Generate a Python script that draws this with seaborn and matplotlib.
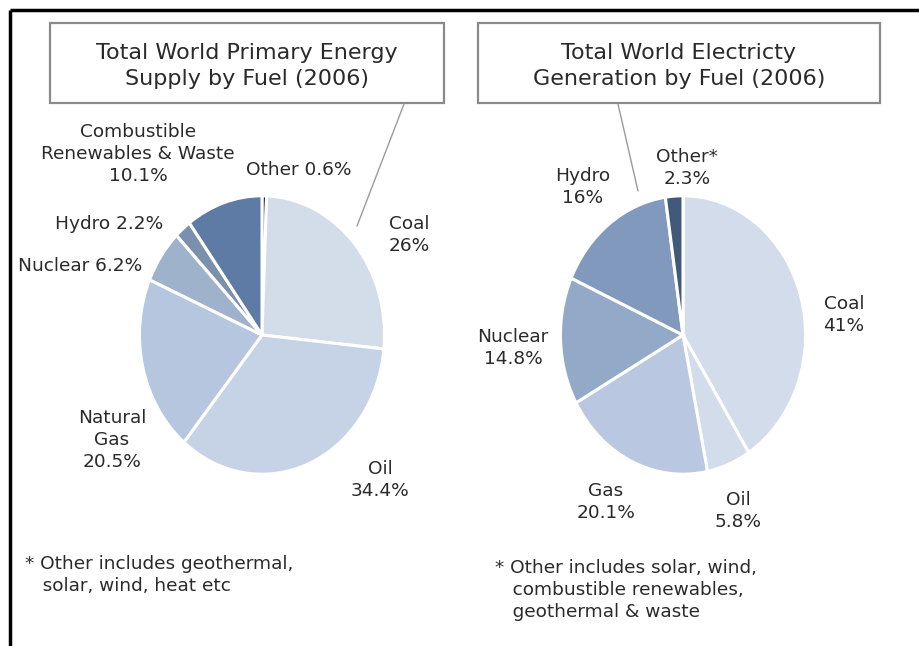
import matplotlib
matplotlib.use("Agg")
import matplotlib.pyplot as plt
import seaborn as sns
from matplotlib.patches import Rectangle

sns.set_theme(style="white")
plt.rcParams['font.family'] = ['DejaVu Sans']

# ---- data ----
supply_labels = ["Other", "Coal", "Oil", "Natural Gas", "Nuclear", "Hydro", "Combustible Renewables & Waste"]
supply_values = [0.6, 26.0, 34.4, 20.5, 6.2, 2.2, 10.1]
supply_colors = ["#1c2a3c", "#d3ddea", "#c6d3e7", "#b6c6df", "#9fb2cc", "#7b90ad", "#5d7ba4"]

elec_labels = ["Coal", "Oil", "Gas", "Nuclear", "Hydro", "Other*"]
elec_values = [41.0, 5.8, 20.1, 14.8, 16.0, 2.3]
elec_colors = ["#d2dcea", "#d3dcea", "#b9c8e0", "#93a9c8", "#8099bd", "#41597a"]

title_left = "Total World Primary Energy\nSupply by Fuel (2006)"
title_right = "Total World Electricty\nGeneration by Fuel (2006)"

supply_texts = ["Other 0.6%", "Coal\n26%", "Oil\n34.4%", "Natural\nGas\n20.5%",
                "Nuclear 6.2%", "Hydro 2.2%", "Combustible\nRenewables & Waste\n10.1%"]
elec_texts = ["Coal\n41%", "Oil\n5.8%", "Gas\n20.1%", "Nuclear\n14.8%", "Hydro\n16%", "Other*\n2.3%"]

note_left = "* Other includes geothermal,\n   solar, wind, heat etc"
note_right = "* Other includes solar, wind,\n   combustible renewables,\n   geothermal & waste"

W, H = 920, 646
fig = plt.figure(figsize=(W / 100, H / 100), dpi=100)
fig.patch.set_facecolor("white")

# overlay axes in pixel coordinates
ov = fig.add_axes([0, 0, 1, 1])
ov.set_xlim(0, W)
ov.set_ylim(H, 0)
ov.axis("off")
ov.set_zorder(0)

def pie_axes(cx, cy, rx, ry):
    return fig.add_axes([(cx - rx) / W, (H - cy - ry) / H, 2 * rx / W, 2 * ry / H])

txt_color = "#2a2a2a"

for (vals, cols, cx) in [(supply_values, supply_colors, 262), (elec_values, elec_colors, 683)]:
    ax = pie_axes(cx, 335, 125, 142)
    ax.pie(vals, colors=cols, startangle=90, counterclock=False,
           wedgeprops=dict(edgecolor="white", linewidth=2.2))
    ax.set_xlim(-1.02, 1.02)
    ax.set_ylim(-1.02, 1.02)
    ax.set_aspect("auto")
    ax.axis("off")

# frame lines
ov.plot([10, W], [10, 10], color="black", lw=2.5, solid_capstyle="butt")
ov.plot([10, 10], [10, H], color="black", lw=2.5, solid_capstyle="butt")

# title boxes
for (x0, x1, t) in [(50, 444, title_left), (478, 880, title_right)]:
    ov.add_patch(Rectangle((x0, 23), x1 - x0, 80, facecolor="white",
                           edgecolor="#8a8a8a", lw=1.6))
    ov.text((x0 + x1) / 2, 66, t, ha="center", va="center", fontsize=16,
            color=txt_color, linespacing=1.4)

# leader lines
ov.plot([404, 357], [104, 226], color="#9a9a9a", lw=1)
ov.plot([618, 638], [104, 191], color="#9a9a9a", lw=1)

fs = 13.3
ls = 1.3
supply_pos = [(299, 170), (409, 235), (380, 480), (112, 440), (80, 266), (109, 224), (138, 154)]
for t, (x, y) in zip(supply_texts, supply_pos):
    ov.text(x, y, t, ha="center", va="center", fontsize=fs, color=txt_color, linespacing=ls)

elec_pos = [(844, 315), (738, 511), (606, 502), (513, 348), (583, 187), (687, 168)]
for t, (x, y) in zip(elec_texts, elec_pos):
    ov.text(x, y, t, ha="center", va="center", fontsize=fs, color=txt_color, linespacing=ls)

ov.text(25, 575, note_left, ha="left", va="center", fontsize=fs, color=txt_color, linespacing=1.28)
ov.text(495, 590, note_right, ha="left", va="center", fontsize=fs, color=txt_color, linespacing=1.28)

fig.savefig("out.png", dpi=100)
